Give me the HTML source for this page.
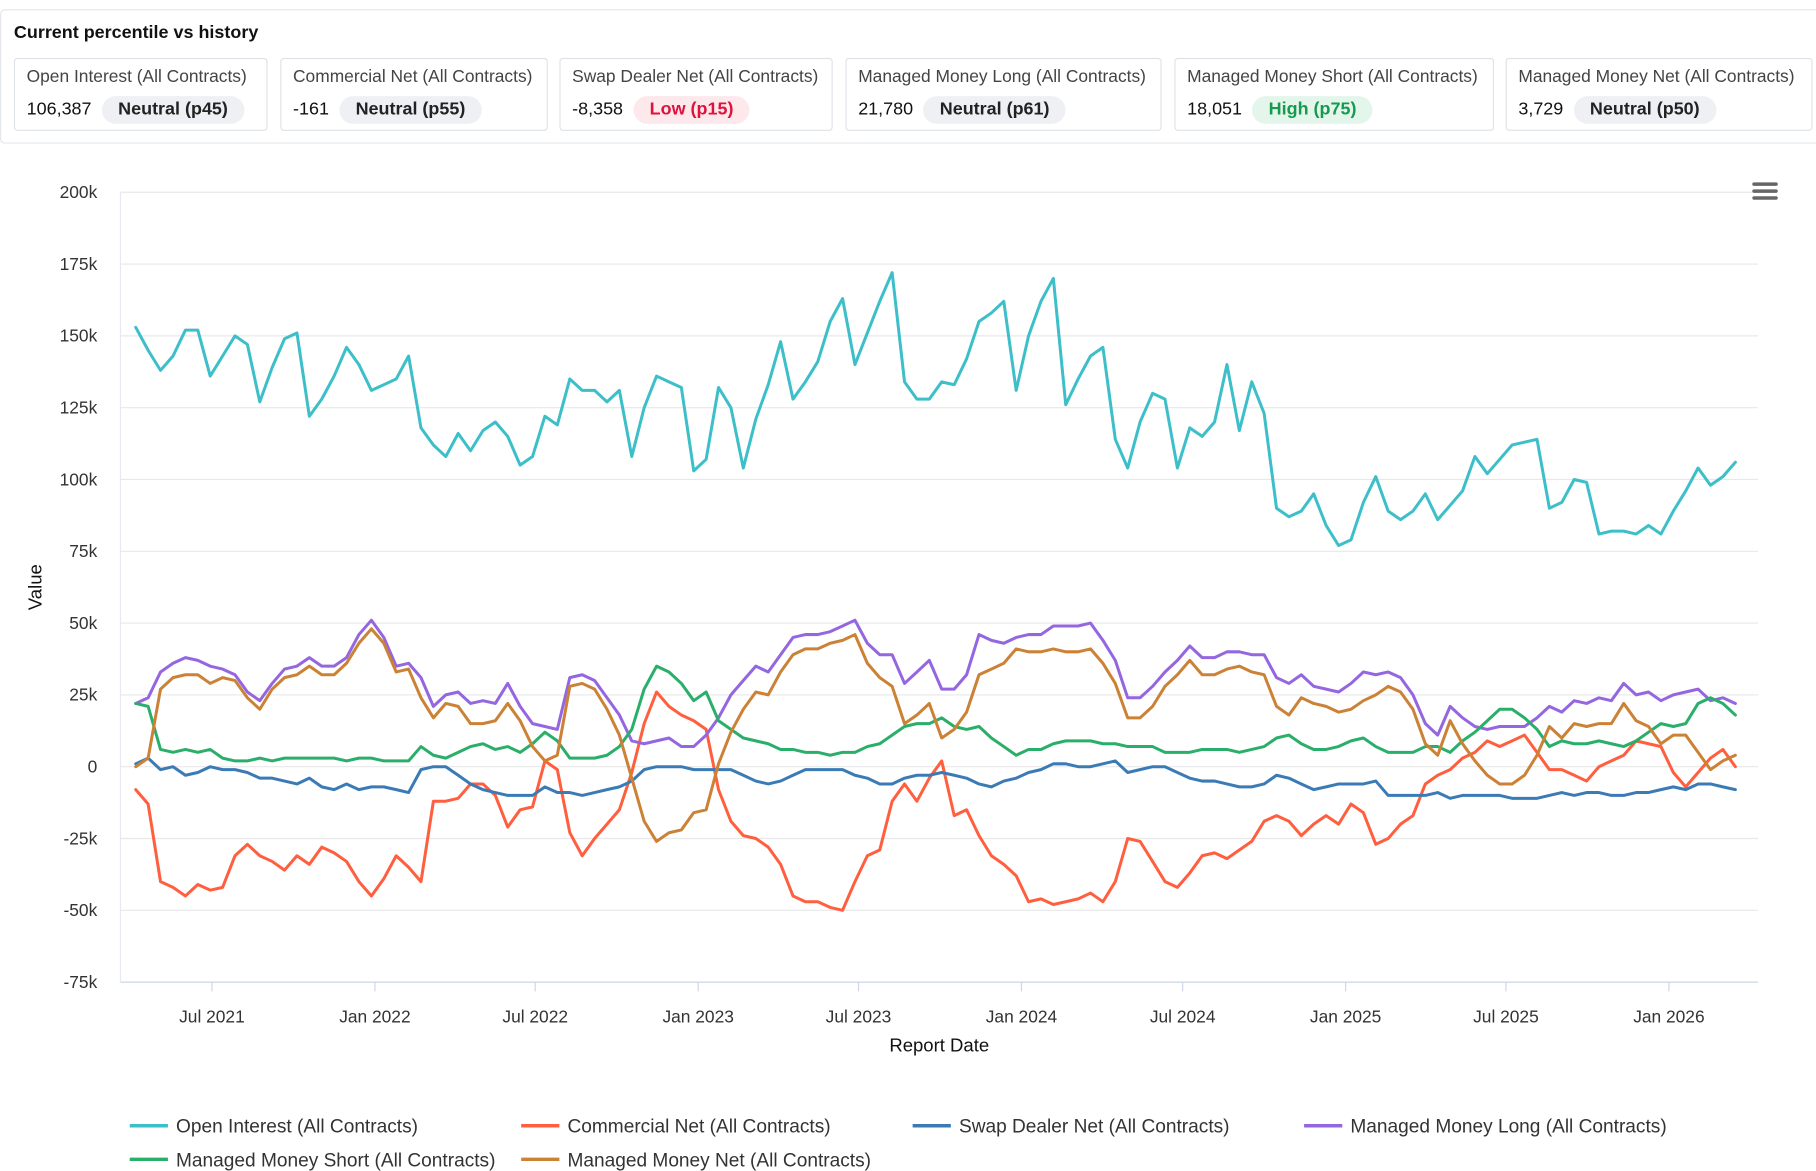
<!DOCTYPE html>
<html><head><meta charset="utf-8">
<style>
html,body{margin:0;padding:0;background:#fff;}
body{width:1816px;height:1171px;overflow:hidden;font-family:"Liberation Sans",Arial,sans-serif;}
#wrap{position:absolute;left:0;top:0;width:1568px;height:1011px;transform:scale(1.158163);transform-origin:0 0;}
.card{position:absolute;left:0;top:8px;width:1580px;height:116px;border:1px solid #e3e6ea;border-radius:4px;box-sizing:border-box;}
.title{position:absolute;left:11px;top:11px;font-size:15.5px;font-weight:bold;color:#111;}
.stat{position:absolute;top:41px;height:63px;border:1px solid #dfe2e6;border-radius:3px;box-sizing:border-box;}
.stat .lab{position:absolute;left:10px;top:7px;font-size:15px;color:#444;white-space:nowrap;}
.stat .val{position:absolute;left:10px;top:32px;font-size:15.5px;color:#111;white-space:nowrap;}
.pill{display:inline-block;margin-left:9px;padding:3px 14px;border-radius:13px;background:#eef0f4;font-weight:bold;color:#222;}
.pill.low{background:#fde8ec;color:#e0113a;}
.pill.high{background:#e4f6ec;color:#159a4e;}
svg text{font-family:"Liberation Sans",Arial,sans-serif;}
</style></head><body>
<div id="wrap">
<div class="card">
<div class="title">Current percentile vs history</div>
<div class="stat" style="left:11px;width:219px"><div class="lab">Open Interest (All Contracts)</div><div class="val">106,387<span class="pill">Neutral (p45)</span></div></div>
<div class="stat" style="left:241px;width:231px"><div class="lab">Commercial Net (All Contracts)</div><div class="val">-161<span class="pill">Neutral (p55)</span></div></div>
<div class="stat" style="left:482px;width:236px"><div class="lab">Swap Dealer Net (All Contracts)</div><div class="val">-8,358<span class="pill low">Low (p15)</span></div></div>
<div class="stat" style="left:729px;width:273px"><div class="lab">Managed Money Long (All Contracts)</div><div class="val">21,780<span class="pill">Neutral (p61)</span></div></div>
<div class="stat" style="left:1013px;width:276px"><div class="lab">Managed Money Short (All Contracts)</div><div class="val">18,051<span class="pill high">High (p75)</span></div></div>
<div class="stat" style="left:1299px;width:265px"><div class="lab">Managed Money Net (All Contracts)</div><div class="val">3,729<span class="pill">Neutral (p50)</span></div></div>
</div>
<svg id="chart" width="1568" height="1011" style="position:absolute;left:0;top:0"></svg>
</div>
<script>
const startDate = "2021-04-06";
const stepDays = 14;
const yTicks = [200000,175000,150000,125000,100000,75000,50000,25000,0,-25000,-50000,-75000];
const yTickLabels = ["200k","175k","150k","125k","100k","75k","50k","25k","0","-25k","-50k","-75k"];
const xTickDates = ["2021-07-01","2022-01-01","2022-07-01","2023-01-01","2023-07-01","2024-01-01","2024-07-01","2025-01-01","2025-07-01","2026-01-01"];
const xTickLabels = ["Jul 2021","Jan 2022","Jul 2022","Jan 2023","Jul 2023","Jan 2024","Jul 2024","Jan 2025","Jul 2025","Jan 2026"];
const seriesNames = ["Open Interest (All Contracts)","Commercial Net (All Contracts)","Swap Dealer Net (All Contracts)","Managed Money Long (All Contracts)","Managed Money Short (All Contracts)","Managed Money Net (All Contracts)"];
const openInterest = [153,145,138,143,152,152,136,143,150,147,127,139,149,151,122,128,136,146,140,131,133,135,143,118,112,108,116,110,117,120,115,105,108,122,119,135,131,131,127,131,108,125,136,134,132,103,107,132,125,104,121,133,148,128,134,141,155,163,140,151,162,172,134,128,128,134,133,142,155,158,162,131,150,162,170,126,135,143,146,114,104,120,130,128,104,118,115,120,140,117,134,123,90,87,89,95,84,77,79,92,101,89,86,89,95,86,91,96,108,102,107,112,113,114,90,92,100,99,81,82,82,81,84,81,89,96,104,98,101,106];
const commercialNet = [-8,-13,-40,-42,-45,-41,-43,-42,-31,-27,-31,-33,-36,-31,-34,-28,-30,-33,-40,-45,-39,-31,-35,-40,-12,-12,-11,-6,-6,-10,-21,-15,-14,2,-1,-23,-31,-25,-20,-15,-2,15,26,21,18,16,13,-8,-19,-24,-25,-28,-34,-45,-47,-47,-49,-50,-40,-31,-29,-12,-6,-12,-4,2,-17,-15,-24,-31,-34,-38,-47,-46,-48,-47,-46,-44,-47,-40,-25,-26,-33,-40,-42,-37,-31,-30,-32,-29,-26,-19,-17,-19,-24,-20,-17,-20,-13,-16,-27,-25,-20,-17,-6,-3,-1,3,5,9,7,9,11,5,-1,-1,-3,-5,0,2,4,9,8,7,-2,-7,-2,3,6,0];
const swapDealerNet = [1,3,-1,0,-3,-2,0,-1,-1,-2,-4,-4,-5,-6,-4,-7,-8,-6,-8,-7,-7,-8,-9,-1,0,0,-3,-6,-8,-9,-10,-10,-10,-7,-9,-9,-10,-9,-8,-7,-5,-1,0,0,0,-1,-1,-1,-1,-3,-5,-6,-5,-3,-1,-1,-1,-1,-3,-4,-6,-6,-4,-3,-3,-2,-3,-4,-6,-7,-5,-4,-2,-1,1,1,0,0,1,2,-2,-1,0,0,-2,-4,-5,-5,-6,-7,-7,-6,-3,-4,-6,-8,-7,-6,-6,-6,-5,-10,-10,-10,-10,-9,-11,-10,-10,-10,-10,-11,-11,-11,-10,-9,-10,-9,-9,-10,-10,-9,-9,-8,-7,-8,-6,-6,-7,-8];
const mmLong = [22,24,33,36,38,37,35,34,32,26,23,29,34,35,38,35,35,38,46,51,45,35,36,31,21,25,26,22,23,22,29,21,15,14,13,31,32,30,24,18,9,8,9,10,7,7,11,17,25,30,35,33,39,45,46,46,47,49,51,43,39,39,29,33,37,27,27,32,46,44,43,45,46,46,49,49,49,50,44,37,24,24,28,33,37,42,38,38,40,40,39,39,31,29,32,28,27,26,29,33,32,33,31,25,15,11,21,17,14,13,14,14,14,17,21,19,23,22,24,23,29,25,26,23,25,26,27,23,24,22];
const mmShort = [22,21,6,5,6,5,6,3,2,2,3,2,3,3,3,3,3,2,3,3,2,2,2,7,4,3,5,7,8,6,7,5,8,12,9,3,3,3,4,7,13,27,35,33,29,23,26,16,13,10,9,8,6,6,5,5,4,5,5,7,8,11,14,15,15,17,14,13,14,10,7,4,6,6,8,9,9,9,8,8,7,7,7,5,5,5,6,6,6,5,6,7,10,11,8,6,6,7,9,10,7,5,5,5,7,7,5,9,12,16,20,20,17,13,7,9,8,8,9,8,7,9,12,15,14,15,22,24,22,18];
const mmNet = [0,3,27,31,32,32,29,31,30,24,20,27,31,32,35,32,32,36,43,48,43,33,34,24,17,22,21,15,15,16,22,16,7,2,4,28,29,27,20,11,-4,-19,-26,-23,-22,-16,-15,1,12,20,26,25,33,39,41,41,43,44,46,36,31,28,15,18,22,10,13,19,32,34,36,41,40,40,41,40,40,41,36,29,17,17,21,28,32,37,32,32,34,35,33,32,21,18,24,22,21,19,20,23,25,28,26,20,8,4,16,8,2,-3,-6,-6,-3,4,14,10,15,14,15,15,22,16,14,8,11,11,5,-1,2,4];
const seriesValues = [openInterest,commercialNet,swapDealerNet,mmLong,mmShort,mmNet];
const seriesColors = ["#3dbfc9","#ff5f3f","#3b7bb5","#9466e0","#2aaf6a","#cc8236"];
const seriesKeys = ["open-interest","commercial-net","swap-dealer-net","mm-long","mm-short","mm-net"];

const NS="http://www.w3.org/2000/svg";
const svg=document.getElementById('chart');
const PL=104,PR=1518,PT=166,PB=848;
const yMin=-75000,yMax=200000;
const refDate=Date.parse("2021-07-01"),refX=183,pxPerDay=1258/1645;
function yScale(v){return PB-(v-yMin)/(yMax-yMin)*(PB-PT);}
function xScale(ms){return refX+(ms-refDate)/86400000*pxPerDay;}
function mk(tag,attrs,parent){const e=document.createElementNS(NS,tag);for(const k in attrs)e.setAttribute(k,attrs[k]);(parent||svg).appendChild(e);return e;}
const dates=openInterest.map((_,i)=>Date.parse(startDate)+i*stepDays*86400000);

yTicks.forEach((t,i)=>{
  const y=yScale(t);
  const g=mk('line',{x1:PL,x2:PR,y1:y,y2:y,stroke:i===yTicks.length-1?'#ccd6eb':'#e8e8e8','stroke-width':1});
  
  
  const tx=mk('text',{x:84,y:y+5,'text-anchor':'end','font-size':15,fill:'#333'});
  tx.textContent=yTickLabels[i];
  
  
});
const ax=mk('line',{x1:PL,x2:PL,y1:PT,y2:PB,stroke:'#e6e9f2','stroke-width':1});


xTickDates.forEach((d,i)=>{
  const x=xScale(Date.parse(d));
  const tk=mk('line',{x1:x,x2:x,y1:PB,y2:PB+8,stroke:'#ccd6eb','stroke-width':1});
  
  
  const tx=mk('text',{x:x,y:883,'text-anchor':'middle','font-size':15,fill:'#333'});
  tx.textContent=xTickLabels[i];
  
  
});
const xt=mk('text',{x:811,y:908,'text-anchor':'middle','font-size':16,fill:'#111'});
xt.textContent='Report Date';


const yt=mk('text',{x:36,y:507,'text-anchor':'middle','font-size':16,fill:'#111',transform:'rotate(-90 36 507)'});
yt.textContent='Value';



seriesValues.forEach((vals,s)=>{
  const d=vals.map((v,i)=>(i?'L':'M')+xScale(dates[i]).toFixed(1)+','+yScale(v*1000).toFixed(1)).join(' ');
  const p=mk('path',{d:d,fill:'none',stroke:seriesColors[s],'stroke-width':2.6,'stroke-linejoin':'round','stroke-linecap':'round'});
  
  
});

const menu=mk('g',{});


[159,165,171].forEach(y=>mk('rect',{x:1513,y:y-1.5,width:22,height:3,rx:1.5,fill:'#666'},menu));

seriesNames.forEach((n,i)=>{
  const col=i%4,row=Math.floor(i/4);
  const x=112+col*338,y=972+row*29;
  const g=mk('g',{});
  
  
  mk('line',{x1:x,x2:x+33,y1:y,y2:y,stroke:seriesColors[i],'stroke-width':3},g);
  const t=mk('text',{x:x+40,y:y+6,'font-size':16.5,fill:'#333'},g);
  t.textContent=n;
});
</script>
</body></html>
